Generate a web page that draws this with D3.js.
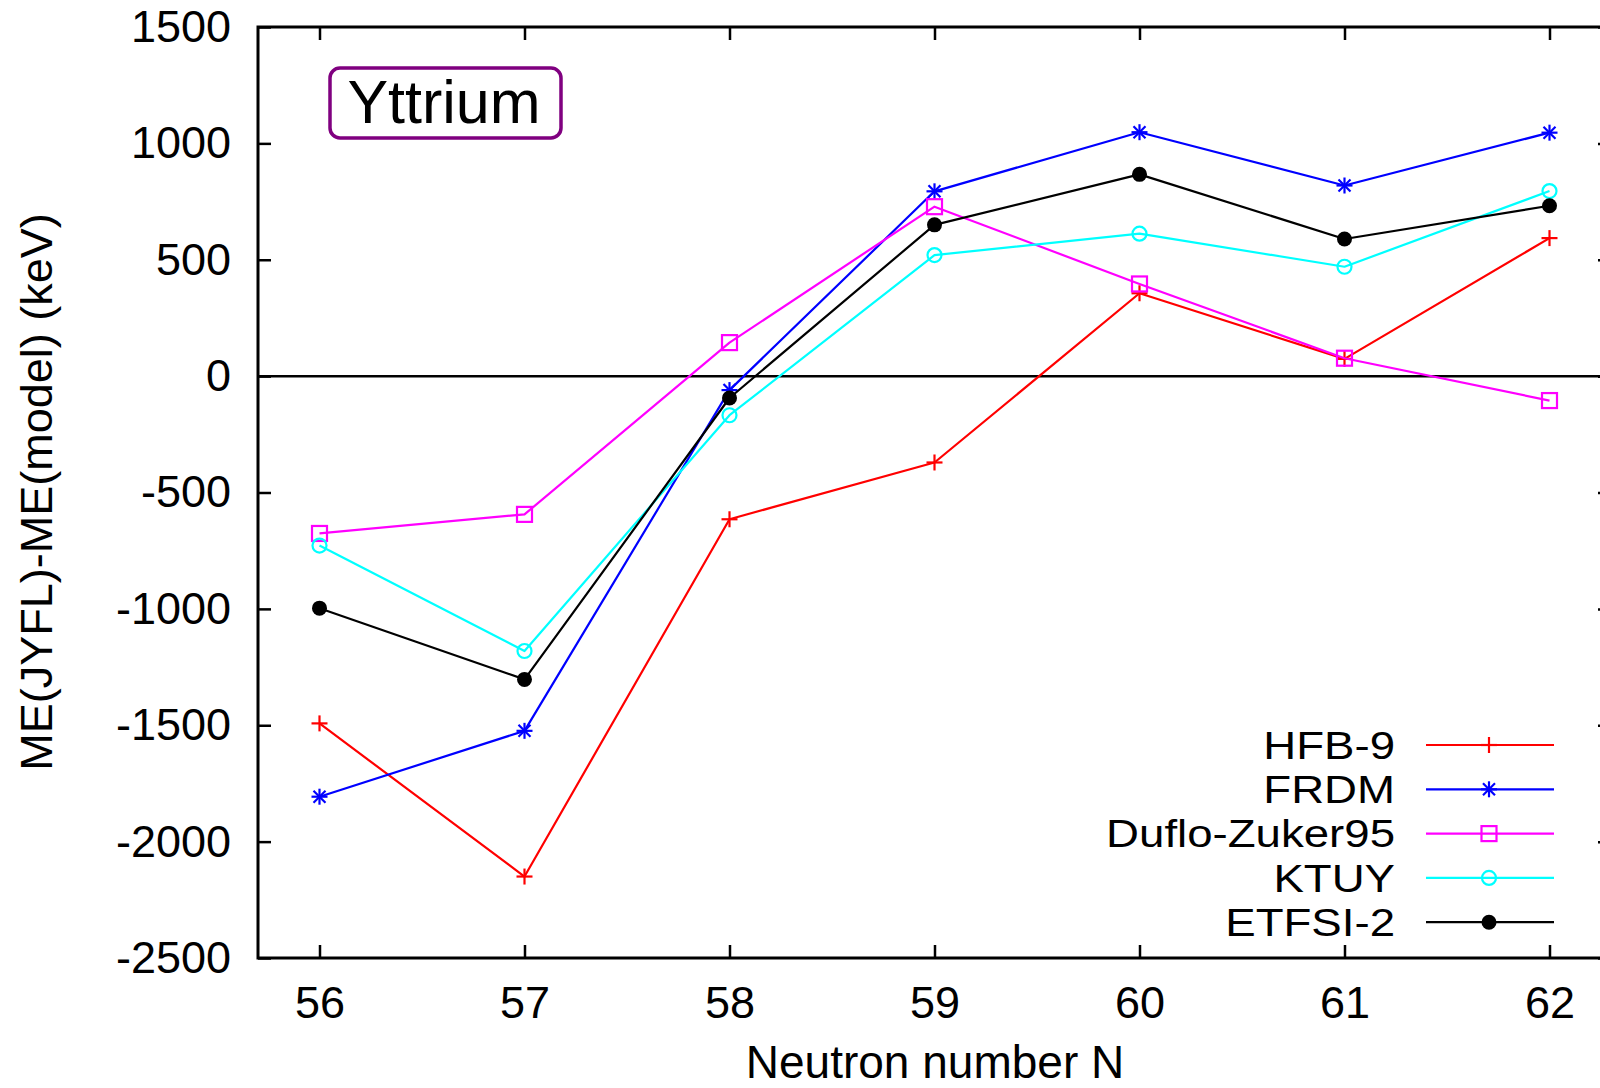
<!DOCTYPE html>
<html>
<head>
<meta charset="utf-8">
<script src="https://cdn.jsdelivr.net/npm/d3@7"></script>
<style>
  html, body { margin: 0; padding: 0; background: #fff; overflow: hidden; }
  svg { display: block; }
  text { font-family: "Liberation Sans", Arial, Helvetica, sans-serif; fill: #000; }
</style>
</head>
<body>
<svg id="chart" width="1600" height="1088"></svg>
<script>
// ---- Data ----
const neutronNumbers = [56, 57, 58, 59, 60, 61, 62];
const seriesNames = ["HFB-9", "FRDM", "Duflo-Zuker95", "KTUY", "ETFSI-2"];
const hfb9   = [-1492, -2150, -615, -371, 356, 74, 593];
const frdm   = [-1807, -1524, -60, 794, 1048, 819, 1046];
const dz95   = [-676, -594, 144, 728, 396, 77, -105];
const ktuy   = [-728, -1181, -168, 520, 612, 470, 795];
const etfsi2 = [-997, -1303, -94, 650, 867, 589, 732];
const xTicks = [56, 57, 58, 59, 60, 61, 62];
const yTicks = [-2500, -2000, -1500, -1000, -500, 0, 500, 1000, 1500];
const xTitle = "Neutron number N";
const yTitle = "ME(JYFL)-ME(model) (keV)";
const labelText = "Yttrium";

const seriesValues = [hfb9, frdm, dz95, ktuy, etfsi2];
const seriesColors = ["#ff0000", "#0000ff", "#ff00ff", "#00ffff", "#000000"];
const seriesMarkers = ["plus", "star", "square", "circle", "dot"];

// ---- Layout ----
const svg = d3.select("#chart");
const L = 258, R = 1611, T = 27, B = 958;
const x = d3.scaleLinear().domain([55.7, 62.3]).range([L, R]);
const y = d3.scaleLinear().domain([-2500, 1500]).range([B, T]);
const FS = 45;
const plain = d => String(d);  // hyphen-minus, no thousands separator

// Axes (ticks inward, gnuplot style)
const gLeft = svg.append("g").attr("transform", `translate(${L},0)`)
  .call(d3.axisLeft(y).tickValues(yTicks).tickFormat(plain).tickSizeInner(-13).tickSizeOuter(0).tickPadding(27));
const gBottom = svg.append("g").attr("transform", `translate(0,${B})`)
  .call(d3.axisBottom(x).tickValues(xTicks).tickFormat(plain).tickSizeInner(-13).tickSizeOuter(0).tickPadding(28));
const gTop = svg.append("g").attr("transform", `translate(0,${T})`)
  .call(d3.axisTop(x).tickValues(xTicks).tickFormat("").tickSizeInner(-13).tickSizeOuter(0));
const gRight = svg.append("g").attr("transform", `translate(${R},0)`)
  .call(d3.axisRight(y).tickValues(yTicks).tickFormat("").tickSizeInner(-13).tickSizeOuter(0));
[gLeft, gBottom, gTop, gRight].forEach(g => {
  g.select(".domain").remove();
  g.selectAll(".tick line").attr("stroke", "#000").attr("stroke-width", 2.5);
  g.selectAll(".tick text").attr("font-size", FS).attr("font-family", "Liberation Sans, Arial, sans-serif").attr("fill", "#000");
});

// Zero line
svg.append("line")
  .attr("x1", L).attr("x2", R).attr("y1", y(0)).attr("y2", y(0))
  .attr("stroke", "#000").attr("stroke-width", 2.5);

// Border
svg.append("rect")
  .attr("x", L).attr("y", T).attr("width", R - L).attr("height", B - T)
  .attr("fill", "none").attr("stroke", "#000").attr("stroke-width", 3);

// Marker drawing
function marker(g, type, cx, cy, color) {
  const s = 8;
  if (type === "plus" || type === "star") {
    g.append("line").attr("x1", cx - s).attr("x2", cx + s).attr("y1", cy).attr("y2", cy)
      .attr("stroke", color).attr("stroke-width", 2.2);
    g.append("line").attr("x1", cx).attr("x2", cx).attr("y1", cy - s).attr("y2", cy + s)
      .attr("stroke", color).attr("stroke-width", 2.2);
    if (type === "star") {
      const d = 6;
      g.append("line").attr("x1", cx - d).attr("x2", cx + d).attr("y1", cy - d).attr("y2", cy + d)
        .attr("stroke", color).attr("stroke-width", 2.2);
      g.append("line").attr("x1", cx - d).attr("x2", cx + d).attr("y1", cy + d).attr("y2", cy - d)
        .attr("stroke", color).attr("stroke-width", 2.2);
    }
  } else if (type === "square") {
    g.append("rect").attr("x", cx - 7.5).attr("y", cy - 7.5).attr("width", 15).attr("height", 15)
      .attr("fill", "none").attr("stroke", color).attr("stroke-width", 2.2);
  } else if (type === "circle") {
    g.append("circle").attr("cx", cx).attr("cy", cy).attr("r", 7)
      .attr("fill", "none").attr("stroke", color).attr("stroke-width", 2.2);
  } else if (type === "dot") {
    g.append("circle").attr("cx", cx).attr("cy", cy).attr("r", 7.5).attr("fill", color);
  }
}

// Series
const line = d3.line().x(d => x(d[0])).y(d => y(d[1]));
seriesValues.forEach((vals, i) => {
  const pts = neutronNumbers.map((n, j) => [n, vals[j]]);
  const g = svg.append("g");
  g.append("path").datum(pts).attr("d", line)
    .attr("fill", "none").attr("stroke", seriesColors[i]).attr("stroke-width", 2.2)
    .attr("stroke-linejoin", "round");
  pts.forEach(p => marker(g, seriesMarkers[i], x(p[0]), y(p[1]), seriesColors[i]));
});

// Legend (text slightly condensed vertically so rows do not collide)
const legX = 1395, legL1 = 1426, legL2 = 1554, legM = 1489, legY0 = 745, legDY = 44.3;
const legSX = 1.2, legFS = 38;
seriesNames.forEach((name, i) => {
  const yy = legY0 + i * legDY;
  const g = svg.append("g");
  g.append("text").attr("transform", `translate(${legX},${yy}) scale(${legSX},1)`)
    .attr("dy", "0.36em").attr("text-anchor", "end").attr("font-size", legFS).text(name);
  g.append("line").attr("x1", legL1).attr("x2", legL2).attr("y1", yy).attr("y2", yy)
    .attr("stroke", seriesColors[i]).attr("stroke-width", 2.2);
  marker(g, seriesMarkers[i], legM, yy, seriesColors[i]);
});

// Element label box
svg.append("rect").attr("x", 330).attr("y", 68).attr("width", 231).attr("height", 70)
  .attr("rx", 10).attr("ry", 10).attr("fill", "#fff").attr("stroke", "#800080").attr("stroke-width", 3.5);
svg.append("text").attr("x", 444).attr("y", 123).attr("text-anchor", "middle")
  .attr("font-size", 61).text(labelText);

// Axis titles
svg.append("text").attr("x", 935).attr("y", 1078).attr("text-anchor", "middle")
  .attr("font-size", 46).text(xTitle);
svg.append("text").attr("transform", "translate(52,492) rotate(-90)")
  .attr("text-anchor", "middle").attr("font-size", FS).text(yTitle);
</script>
</body>
</html>
